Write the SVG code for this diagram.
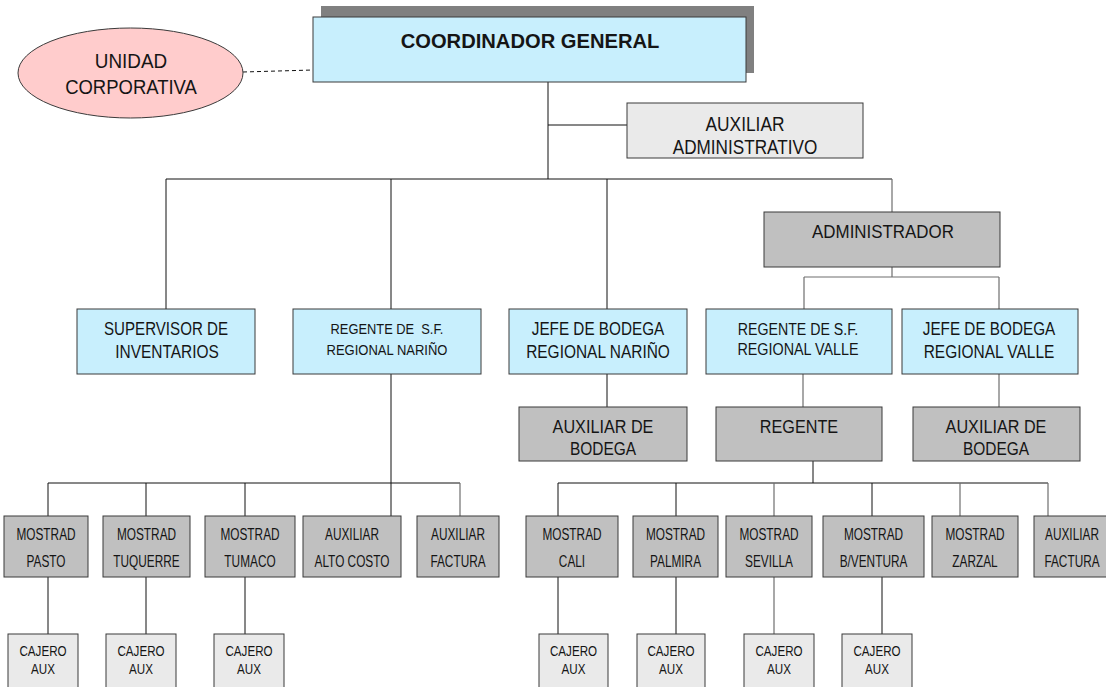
<svg xmlns="http://www.w3.org/2000/svg" width="1106" height="687" viewBox="0 0 1106 687">
  <style>
    text { font-family: "Liberation Sans", Arial, sans-serif; fill: #151515; text-anchor: middle; }
    .box { stroke: #3a3a3a; stroke-width: 1; }
    .blue { fill: #c8effd; }
    .gray { fill: #c0c0c0; }
    .light { fill: #eaeaea; }
    .pink { fill: #ffcccc; }
    .c { stroke: #111; stroke-width: 1; fill: none; }
    .g { stroke: #6e6e6e; stroke-width: 1.2; fill: none; }
    .f21 { font-size: 21px; }
    .f19 { font-size: 19.5px; }
    .f18 { font-size: 18px; }
    .f165 { font-size: 16.5px; }
    .f15 { font-size: 15.5px; }
    .f16 { font-size: 16px; }
    .f14 { font-size: 14px; }
  </style>

  <!-- connectors -->
  <g id="connectors">
    <line class="c" x1="243" y1="72" x2="313" y2="70" stroke-dasharray="4,3"/>
    <line class="c" x1="548" y1="82" x2="548" y2="179"/>
    <line class="c" x1="548" y1="125" x2="627" y2="125"/>
    <line class="c" x1="166" y1="179" x2="892" y2="179"/>
    <line class="c" x1="166" y1="179" x2="166" y2="309"/>
    <line class="c" x1="391" y1="179" x2="391" y2="309"/>
    <line class="c" x1="607" y1="179" x2="607" y2="309"/>
    <line class="g" x1="892" y1="179" x2="892" y2="212"/>
    <!-- administrador branch -->
    <line class="g" x1="892" y1="267" x2="892" y2="277"/>
    <line class="g" x1="804" y1="277" x2="999" y2="277"/>
    <line class="g" x1="804" y1="277" x2="804" y2="309"/>
    <line class="g" x1="999" y1="277" x2="999" y2="309"/>
    <!-- level 2 to level 3 -->
    <line class="c" x1="607" y1="374" x2="607" y2="407"/>
    <line class="g" x1="803" y1="374" x2="803" y2="407"/>
    <line class="g" x1="999" y1="374" x2="999" y2="407"/>
    <!-- regional nariño -->
    <line class="c" x1="391" y1="374" x2="391" y2="516"/>
    <line class="c" x1="48" y1="483" x2="460" y2="483"/>
    <line class="c" x1="48" y1="483" x2="48" y2="516"/>
    <line class="c" x1="146" y1="483" x2="146" y2="516"/>
    <line class="c" x1="245" y1="483" x2="245" y2="516"/>
    <line class="g" x1="460" y1="483" x2="460" y2="516"/>
    <!-- regional valle -->
    <line class="c" x1="813" y1="461" x2="813" y2="483"/>
    <line class="c" x1="558" y1="483" x2="1048" y2="483"/>
    <line class="c" x1="558" y1="483" x2="558" y2="516"/>
    <line class="c" x1="676" y1="483" x2="676" y2="516"/>
    <line class="g" x1="774" y1="483" x2="774" y2="516"/>
    <line class="c" x1="872" y1="483" x2="872" y2="516"/>
    <line class="g" x1="960" y1="483" x2="960" y2="516"/>
    <line class="g" x1="1048" y1="483" x2="1048" y2="516"/>
    <!-- cashiers -->
    <line class="c" x1="48" y1="577" x2="48" y2="635"/>
    <line class="c" x1="146" y1="577" x2="146" y2="635"/>
    <line class="c" x1="245" y1="577" x2="245" y2="635"/>
    <line class="c" x1="558" y1="577" x2="558" y2="635"/>
    <line class="c" x1="676" y1="577" x2="676" y2="635"/>
    <line class="g" x1="774" y1="577" x2="774" y2="635"/>
    <line class="c" x1="882" y1="577" x2="882" y2="635"/>
  </g>

  <g id="unidad-corporativa">
    <ellipse class="box pink" cx="130.5" cy="73" rx="112.5" ry="45"/>
    <text class="f21" transform="translate(131,68) scale(0.9,1)">UNIDAD</text>
    <text class="f21" transform="translate(131,94) scale(0.88,1)">CORPORATIVA</text>
  </g>

  <g id="coordinador-general">
    <rect x="321" y="6" width="433" height="67" fill="#808080"/>
    <rect class="box blue" x="313" y="17" width="433" height="65"/>
    <text class="f21" font-weight="bold" transform="translate(530,48) scale(0.96,1)">COORDINADOR GENERAL</text>
  </g>

  <g id="auxiliar-administrativo">
    <rect class="box light" x="627" y="103" width="236" height="55"/>
    <text class="f19" transform="translate(745,131) scale(0.89,1)">AUXILIAR</text>
    <text class="f19" transform="translate(745,154) scale(0.88,1)">ADMINISTRATIVO</text>
  </g>

  <g id="administrador">
    <rect class="box gray" x="764" y="212" width="236" height="55"/>
    <text class="f18" transform="translate(883,238) scale(0.94,1)">ADMINISTRADOR</text>
  </g>

  <g id="supervisor-inventarios">
    <rect class="box blue" x="77" y="309" width="178" height="65"/>
    <text class="f18" transform="translate(166,335) scale(0.84,1)">SUPERVISOR DE</text>
    <text class="f18" transform="translate(167,358) scale(0.86,1)">INVENTARIOS</text>
  </g>

  <g id="regente-narino">
    <rect class="box blue" x="293" y="309" width="188" height="65"/>
    <text class="f15" transform="translate(387,334) scale(0.83,1)" xml:space="preserve">REGENTE DE  S.F.</text>
    <text class="f15" transform="translate(387,355) scale(0.84,1)">REGIONAL NARIÑO</text>
  </g>

  <g id="jefe-bodega-narino">
    <rect class="box blue" x="509" y="309" width="178" height="65"/>
    <text class="f18" transform="translate(598,335) scale(0.85,1)">JEFE DE BODEGA</text>
    <text class="f18" transform="translate(598,358) scale(0.86,1)">REGIONAL NARIÑO</text>
  </g>

  <g id="regente-valle">
    <rect class="box blue" x="706" y="309" width="186" height="65"/>
    <text class="f165" transform="translate(798,335) scale(0.86,1)">REGENTE DE S.F.</text>
    <text class="f165" transform="translate(798,355) scale(0.87,1)">REGIONAL VALLE</text>
  </g>

  <g id="jefe-bodega-valle">
    <rect class="box blue" x="902" y="309" width="176" height="65"/>
    <text class="f18" transform="translate(989,335) scale(0.85,1)">JEFE DE BODEGA</text>
    <text class="f18" transform="translate(989,358) scale(0.86,1)">REGIONAL VALLE</text>
  </g>

  <g id="auxiliar-bodega-narino">
    <rect class="box gray" x="519" y="407" width="168" height="54"/>
    <text class="f18" transform="translate(603,433) scale(0.9,1)">AUXILIAR DE</text>
    <text class="f18" transform="translate(603,455) scale(0.86,1)">BODEGA</text>
  </g>

  <g id="regente">
    <rect class="box gray" x="716" y="407" width="166" height="54"/>
    <text class="f18" transform="translate(799,433) scale(0.9,1)">REGENTE</text>
  </g>

  <g id="auxiliar-bodega-valle">
    <rect class="box gray" x="913" y="407" width="167" height="54"/>
    <text class="f18" transform="translate(996,433) scale(0.9,1)">AUXILIAR DE</text>
    <text class="f18" transform="translate(996,455) scale(0.86,1)">BODEGA</text>
  </g>

  <!-- counters, Nariño -->
  <g id="mostrad-pasto">
    <rect class="box gray" x="4" y="516" width="84" height="61"/>
    <text class="f16" transform="translate(46,540) scale(0.74,1)">MOSTRAD</text>
    <text class="f16" transform="translate(46,567) scale(0.74,1)">PASTO</text>
  </g>
  <g id="mostrad-tuquerre">
    <rect class="box gray" x="103" y="516" width="87" height="61"/>
    <text class="f16" transform="translate(146.5,540) scale(0.74,1)">MOSTRAD</text>
    <text class="f16" transform="translate(146.5,567) scale(0.74,1)">TUQUERRE</text>
  </g>
  <g id="mostrad-tumaco">
    <rect class="box gray" x="205" y="516" width="90" height="61"/>
    <text class="f16" transform="translate(250,540) scale(0.74,1)">MOSTRAD</text>
    <text class="f16" transform="translate(250,567) scale(0.74,1)">TUMACO</text>
  </g>
  <g id="auxiliar-alto-costo">
    <rect class="box gray" x="303" y="516" width="98" height="61"/>
    <text class="f16" transform="translate(352,540) scale(0.74,1)">AUXILIAR</text>
    <text class="f16" transform="translate(352,567) scale(0.74,1)">ALTO COSTO</text>
  </g>
  <g id="auxiliar-factura-narino">
    <rect class="box gray" x="417" y="516" width="82" height="61"/>
    <text class="f16" transform="translate(458,540) scale(0.74,1)">AUXILIAR</text>
    <text class="f16" transform="translate(458,567) scale(0.74,1)">FACTURA</text>
  </g>

  <!-- counters, Valle -->
  <g id="mostrad-cali">
    <rect class="box gray" x="526" y="516" width="92" height="61"/>
    <text class="f16" transform="translate(572,540) scale(0.74,1)">MOSTRAD</text>
    <text class="f16" transform="translate(572,567) scale(0.74,1)">CALI</text>
  </g>
  <g id="mostrad-palmira">
    <rect class="box gray" x="633" y="516" width="85" height="61"/>
    <text class="f16" transform="translate(675.5,540) scale(0.74,1)">MOSTRAD</text>
    <text class="f16" transform="translate(675.5,567) scale(0.74,1)">PALMIRA</text>
  </g>
  <g id="mostrad-sevilla">
    <rect class="box gray" x="726" y="516" width="86" height="61"/>
    <text class="f16" transform="translate(769,540) scale(0.74,1)">MOSTRAD</text>
    <text class="f16" transform="translate(769,567) scale(0.74,1)">SEVILLA</text>
  </g>
  <g id="mostrad-bventura">
    <rect class="box gray" x="823" y="516" width="101" height="61"/>
    <text class="f16" transform="translate(873.5,540) scale(0.74,1)">MOSTRAD</text>
    <text class="f16" transform="translate(873.5,567) scale(0.74,1)">B/VENTURA</text>
  </g>
  <g id="mostrad-zarzal">
    <rect class="box gray" x="932" y="516" width="86" height="61"/>
    <text class="f16" transform="translate(975,540) scale(0.74,1)">MOSTRAD</text>
    <text class="f16" transform="translate(975,567) scale(0.74,1)">ZARZAL</text>
  </g>
  <g id="auxiliar-factura-valle">
    <rect class="box gray" x="1034" y="516" width="80" height="61"/>
    <text class="f16" transform="translate(1072,540) scale(0.74,1)">AUXILIAR</text>
    <text class="f16" transform="translate(1072,567) scale(0.74,1)">FACTURA</text>
  </g>

  <!-- cashiers -->
  <g id="cajero-pasto">
    <rect class="box light" x="8" y="634" width="70" height="60"/>
    <text class="f14" transform="translate(43,656) scale(0.83,1)">CAJERO</text>
    <text class="f14" transform="translate(43,674) scale(0.83,1)">AUX</text>
  </g>
  <g id="cajero-tuquerre">
    <rect class="box light" x="106" y="634" width="70" height="60"/>
    <text class="f14" transform="translate(141,656) scale(0.83,1)">CAJERO</text>
    <text class="f14" transform="translate(141,674) scale(0.83,1)">AUX</text>
  </g>
  <g id="cajero-tumaco">
    <rect class="box light" x="214" y="634" width="70" height="60"/>
    <text class="f14" transform="translate(249,656) scale(0.83,1)">CAJERO</text>
    <text class="f14" transform="translate(249,674) scale(0.83,1)">AUX</text>
  </g>
  <g id="cajero-cali">
    <rect class="box light" x="539" y="634" width="69" height="60"/>
    <text class="f14" transform="translate(573.5,656) scale(0.83,1)">CAJERO</text>
    <text class="f14" transform="translate(573.5,674) scale(0.83,1)">AUX</text>
  </g>
  <g id="cajero-palmira">
    <rect class="box light" x="637" y="634" width="68" height="60"/>
    <text class="f14" transform="translate(671,656) scale(0.83,1)">CAJERO</text>
    <text class="f14" transform="translate(671,674) scale(0.83,1)">AUX</text>
  </g>
  <g id="cajero-sevilla">
    <rect class="box light" x="744" y="634" width="70" height="60"/>
    <text class="f14" transform="translate(779,656) scale(0.83,1)">CAJERO</text>
    <text class="f14" transform="translate(779,674) scale(0.83,1)">AUX</text>
  </g>
  <g id="cajero-bventura">
    <rect class="box light" x="842" y="634" width="70" height="60"/>
    <text class="f14" transform="translate(877,656) scale(0.83,1)">CAJERO</text>
    <text class="f14" transform="translate(877,674) scale(0.83,1)">AUX</text>
  </g>
</svg>
